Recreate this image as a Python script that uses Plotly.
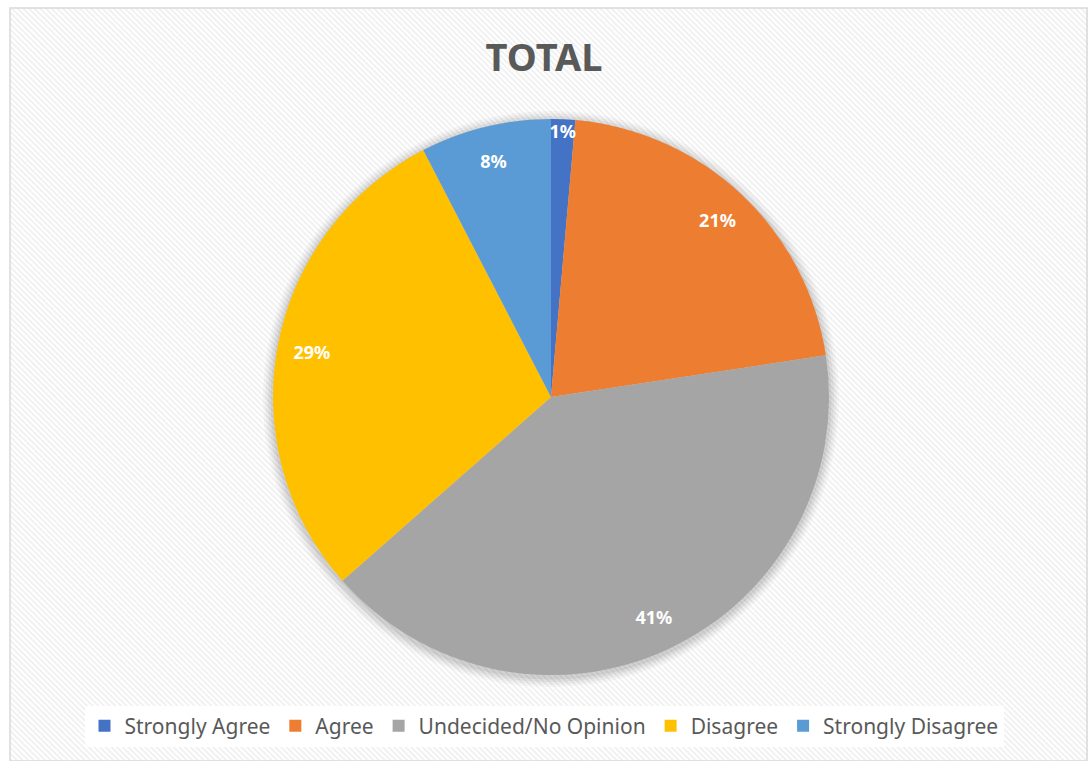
import base64
import plotly.graph_objects as go

# data
labels = ["Strongly Agree", "Agree", "Undecided/No Opinion", "Disagree", "Strongly Disagree"]
values = [1.4, 21.2, 40.9, 28.9, 7.6]
colors = ["#4472C4", "#ED7D31", "#A5A5A5", "#FFC000", "#5B9BD5"]

W, H = 1088, 761

# faint diagonal hatch like the Excel chart area
svg = ('<svg xmlns="http://www.w3.org/2000/svg" width="1078" height="753">'
       '<defs><pattern id="p" width="4" height="4" patternUnits="userSpaceOnUse" patternTransform="rotate(-45)">'
       '<rect width="4" height="4" fill="#ffffff"/><rect width="2" height="4" fill="#f1f1f1"/></pattern></defs>'
       '<rect width="100%" height="100%" fill="url(#p)"/></svg>')
bg = "data:image/svg+xml;base64," + base64.b64encode(svg.encode()).decode()

cx, cy, r = 551, 397, 278
dom = dict(x=[(cx - r) / W, (cx + r) / W], y=[1 - (cy + r) / H, 1 - (cy - r) / H])

fig = go.Figure()
# coloured slices
fig.add_trace(go.Pie(
    labels=labels, values=values, sort=False, direction="clockwise", rotation=0,
    marker=dict(colors=colors, line=dict(width=0)),
    textinfo="none", hoverinfo="label+percent", domain=dom,
))
# labels sit near the rim like Excel's, so put them on a transparent ring
fig.add_trace(go.Pie(
    labels=labels, values=values, sort=False, direction="clockwise", rotation=0,
    hole=0.75, showlegend=False, hoverinfo="skip",
    marker=dict(colors=["rgba(0,0,0,0)"] * len(values), line=dict(width=0)),
    texttemplate="%{percent:.0%}", textposition="inside", insidetextorientation="horizontal",
    textfont=dict(family="Noto Sans", size=18, color="white", weight="bold"),
    domain=dom,
))

# soft shadow behind the pie
shapes = []
for i, op in enumerate([0.03, 0.04, 0.05, 0.06]):
    g = 10 - i * 2.5
    shapes.append(dict(type="circle", xref="paper", yref="paper", layer="below",
                       x0=(cx - r - g) / W, x1=(cx + r + g) / W,
                       y0=1 - (cy + r + g + 2) / H, y1=1 - (cy - r - g + 2) / H,
                       fillcolor="black", opacity=op, line=dict(width=0)))
# chart border
shapes.append(dict(type="rect", xref="paper", yref="paper", layer="below",
                   x0=10 / W, x1=1087 / W, y0=0, y1=1 - 8 / H,
                   line=dict(color="#d9d9d9", width=1.5)))

fig.update_layout(
    width=W, height=H,
    margin=dict(l=0, r=0, t=0, b=0),
    paper_bgcolor="white",
    title=dict(text="TOTAL", x=0.5, xanchor="center", y=1 - 58 / H, yanchor="middle",
               font=dict(family="Noto Sans", size=38, color="#595959", weight="bold")),
    legend=dict(orientation="h", x=0.5, xanchor="center", y=1 - 726 / H, yanchor="middle",
                bgcolor="white", font=dict(family="Noto Sans", size=21, color="#595959"),
                traceorder="normal"),
    uniformtext=dict(minsize=18, mode="show"),
    shapes=shapes,
    images=[dict(source=bg, xref="paper", yref="paper", x=10 / W, y=1 - 8 / H,
                 sizex=1078 / W, sizey=753 / H, xanchor="left", yanchor="top",
                 sizing="stretch", layer="below")],
)

fig.write_html("out.html", config={"displayModeBar": False},
               post_script="document.body.style.margin='0';")
